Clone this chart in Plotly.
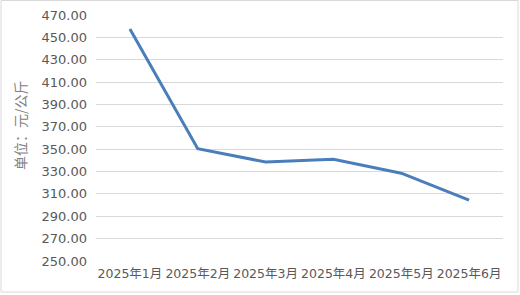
import plotly.graph_objects as go

months = ["2025年1月", "2025年2月", "2025年3月", "2025年4月", "2025年5月", "2025年6月"]
prices = [457.5, 350.5, 338.5, 341.0, 328.5, 304.5]
y_ticks = [250, 270, 290, 310, 330, 350, 370, 390, 410, 430, 450, 470]

W, H = 520, 295
ml, mr, mt, mb = 96, 17, 15, 34
pw, ph = W - ml - mr, H - mt - mb

def px_to_paper_x(px):
    return (px - ml) / pw

def px_to_paper_y(py):
    return (H - mb - py) / ph

fig = go.Figure()
fig.add_trace(go.Scatter(
    x=months, y=prices, mode="lines",
    line=dict(color="#4a7ebb", width=3),
    hoverinfo="skip",
))

fig.update_layout(
    width=W, height=H,
    margin=dict(l=ml, r=mr, t=mt, b=mb),
    paper_bgcolor="white", plot_bgcolor="white",
    showlegend=False,
    font=dict(family="Noto Sans CJK SC, DejaVu Sans", color="#595959"),
    xaxis=dict(
        type="category", range=[-0.5, len(months) - 0.5],
        showgrid=False, zeroline=False, showline=False,
        ticks="", tickangle=0, automargin=False,
        tickfont=dict(size=12.5, color="#595959", family="DejaVu Sans, Noto Sans CJK SC"),
        ticklabelstandoff=3,
    ),
    yaxis=dict(
        range=[250, 470], tickvals=y_ticks,
        ticktext=[f"{v:.2f}" for v in y_ticks],
        showgrid=True, gridcolor="#d9d9d9", gridwidth=1,
        zeroline=False, showline=False, ticks="", automargin=False,
        tickfont=dict(size=13, color="#595959", family="DejaVu Sans"),
        ticklabelstandoff=8,
    ),
    shapes=[dict(
        type="rect", xref="paper", yref="paper",
        x0=px_to_paper_x(1), x1=px_to_paper_x(518),
        y0=px_to_paper_y(292), y1=px_to_paper_y(0.5),
        line=dict(color="#d9d9d9", width=1), fillcolor="rgba(0,0,0,0)",
        layer="below",
    )],
    annotations=[dict(
        text="单位：元/公斤", textangle=-90,
        xref="paper", yref="paper",
        x=px_to_paper_x(20), y=px_to_paper_y(125),
        xanchor="center", yanchor="middle", showarrow=False,
        font=dict(size=14, color="#808080", family="Noto Sans CJK SC"),
    )],
)

fig.write_html("out.html")
